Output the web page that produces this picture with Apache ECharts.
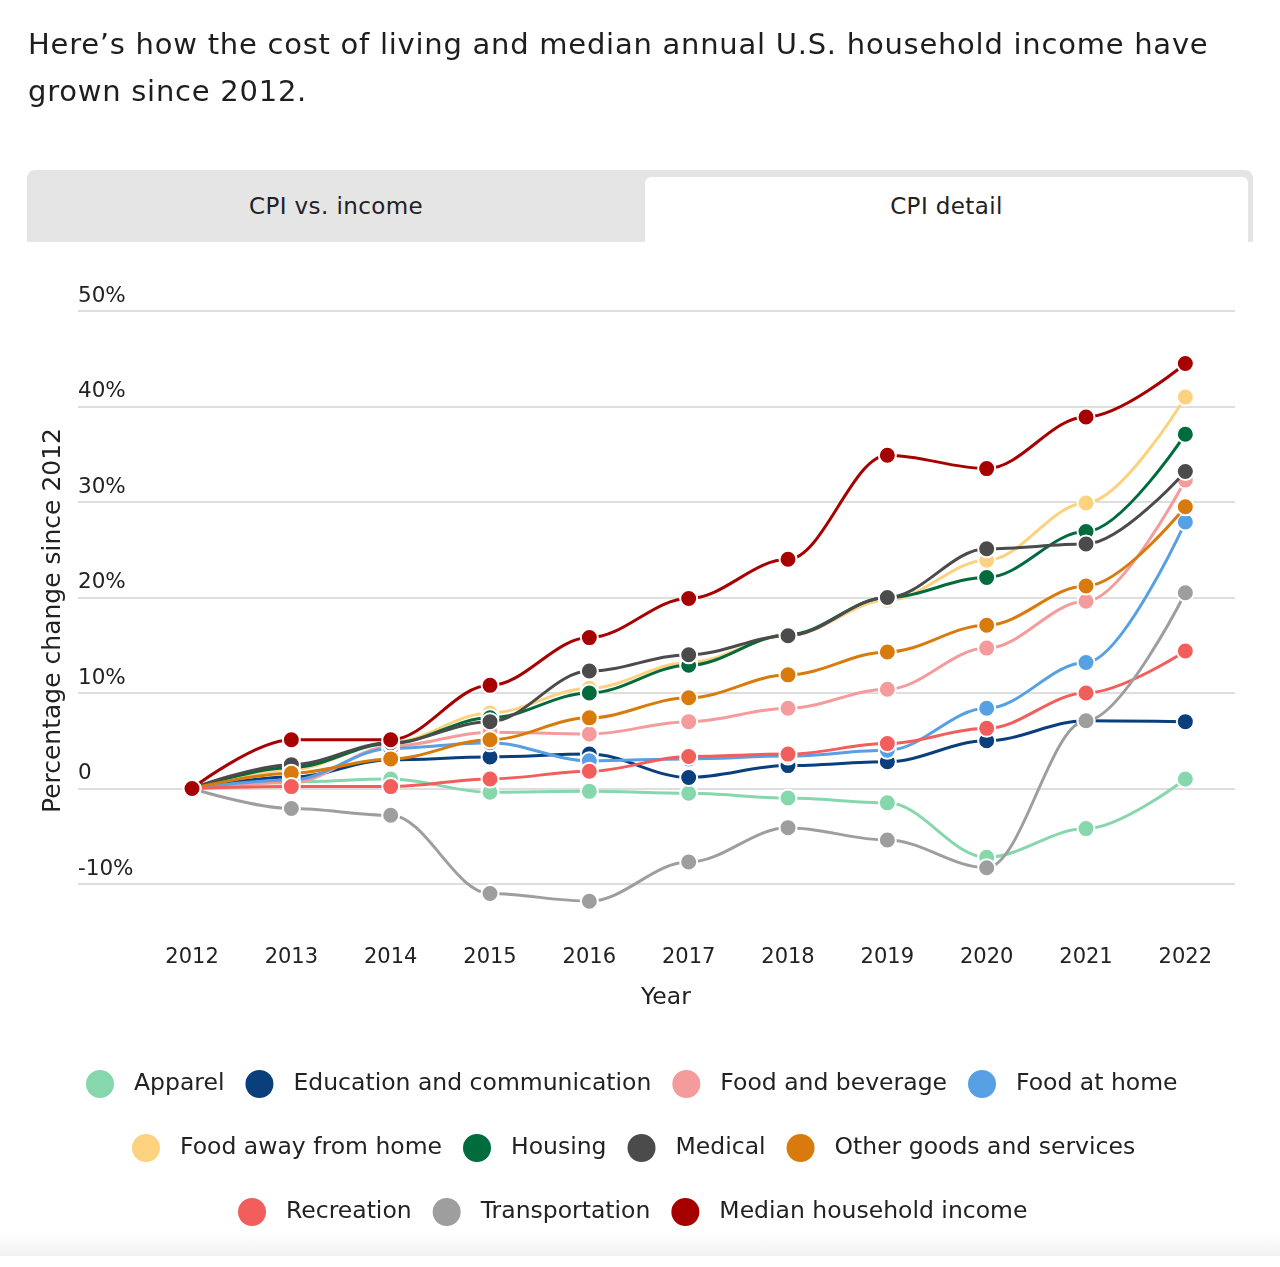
<!DOCTYPE html>
<html>
<head>
<meta charset="utf-8">
<script src="https://cdn.jsdelivr.net/npm/echarts@6/dist/echarts.min.js"></script>
<style>
  html, body { margin: 0; padding: 0; background: #fff; width: 1280px; height: 1267px; overflow: hidden; font-family: "DejaVu Sans", sans-serif; }
  #title { position: absolute; left: 28px; top: 21px; width: 1250px; font-size: 29px; letter-spacing: 0.75px; line-height: 47px; color: #1e1e1e; z-index: 2; white-space: nowrap; }
  #tabs { position: absolute; left: 27px; top: 170px; width: 1226px; height: 72px; background: #e5e5e5; border-radius: 8px 8px 0 0; z-index: 2; }
  .tab { position: absolute; font-size: 23px; letter-spacing: 0.4px; color: #222; text-align: center; }
  #tab1 { left: 0; top: 0; width: 618px; height: 72px; line-height: 72px; }
  #tab2 { left: 618px; top: 7px; width: 603px; height: 65px; line-height: 58px; background: #fff; border-radius: 6px 6px 0 0; }
  #shadow { position: absolute; left: 0; top: 1232px; width: 1280px; height: 24px; background: linear-gradient(#fff, #f2f2f2); z-index: 0; }
  #chart { position: absolute; left: 0; top: 0; width: 1280px; height: 1267px; z-index: 1; }
</style>
</head>
<body>
<div id="title">Here’s how the cost of living and median annual U.S. household income have<br>grown since 2012.</div>
<div id="tabs"><div class="tab" id="tab1">CPI vs. income</div><div class="tab" id="tab2">CPI detail</div></div>
<div id="shadow"></div>
<div id="chart"></div>
<script>
const years = ['2012','2013','2014','2015','2016','2017','2018','2019','2020','2021','2022'];
const apparel        = [0, 0.7, 1.0, -0.4, -0.3, -0.5, -1.0, -1.5, -7.2, -4.2, 1.0];
const education      = [0, 1.2, 3.0, 3.3, 3.6, 1.15, 2.4, 2.8, 5.0, 7.1, 7.0];
const foodBeverage   = [0, 0.6, 4.4, 5.9, 5.7, 7.0, 8.4, 10.4, 14.7, 19.6, 32.3];
const foodAtHome     = [0, 0.9, 4.2, 4.8, 2.9, 3.1, 3.4, 4.0, 8.4, 13.2, 27.9];
const foodAway       = [0, 2.0, 4.8, 7.9, 10.5, 13.2, 16.0, 19.7, 23.9, 29.9, 41.0];
const housing        = [0, 2.2, 4.7, 7.4, 10.0, 12.9, 16.1, 20.0, 22.1, 26.9, 37.1];
const medical        = [0, 2.5, 4.8, 7.0, 12.3, 14.0, 16.0, 20.0, 25.1, 25.6, 33.2];
const otherGoods     = [0, 1.6, 3.1, 5.1, 7.4, 9.5, 11.9, 14.3, 17.1, 21.2, 29.5];
const recreation     = [0, 0.2, 0.2, 1.0, 1.8, 3.35, 3.6, 4.7, 6.3, 10.0, 14.4];
const transportation = [0, -2.1, -2.8, -11.0, -11.8, -7.7, -4.1, -5.4, -8.3, 7.1, 20.5];
const medianIncome   = [0, 5.1, 5.1, 10.8, 15.8, 19.9, 24.0, 34.9, 33.5, 38.9, 44.5];

const seriesNames = ['Apparel','Education and communication','Food and beverage','Food at home','Food away from home','Housing','Medical','Other goods and services','Recreation','Transportation','Median household income'];
const seriesData = [apparel, education, foodBeverage, foodAtHome, foodAway, housing, medical, otherGoods, recreation, transportation, medianIncome];
const colors = ['#86d7ac','#0a3f7d','#f59b9b','#57a0e4','#fdd27f','#006b3d','#4b4b4b','#d97b0c','#f25e5c','#9e9e9e','#a70000'];

const FONT = '"DejaVu Sans", sans-serif';
const chart = echarts.init(document.getElementById('chart'), null, {renderer: 'canvas'});

const legendRows = [seriesNames.slice(0,4), seriesNames.slice(4,8), seriesNames.slice(8,11)];
const legendTops = [1063, 1127, 1191];
const legendLefts = [79, 125, 231];

const option = {
  backgroundColor: 'transparent',
  animation: false,
  color: colors,
  grid: [
    {left: 78, right: 45, top: 311, bottom: 383},
    {left: 142.35, right: 45, top: 311, bottom: 383}
  ],
  xAxis: [
    {gridIndex: 0, type: 'category', data: years, show: false},
    {gridIndex: 1, type: 'category', data: years, boundaryGap: true,
     axisLine: {show: false}, axisTick: {show: false},
     axisLabel: {margin: 63, fontSize: 21, color: '#222', fontFamily: FONT, interval: 0}}
  ],
  yAxis: [
    {gridIndex: 0, type: 'value', min: -10, max: 50, interval: 10,
     axisLine: {show: false}, axisTick: {show: false},
     splitLine: {lineStyle: {color: '#d3d3d3', width: 1.5}},
     axisLabel: {inside: true, align: 'left', verticalAlign: 'bottom', margin: 0, padding: [0,0,4,0],
       fontSize: 21.5, color: '#222', fontFamily: FONT,
       formatter: v => v === 0 ? '0' : v + '%'}},
    {gridIndex: 1, type: 'value', min: -10, max: 50, interval: 10, show: false, splitLine: {show: false}}
  ],
  legend: legendRows.map((row, i) => ({
    data: row, top: legendTops[i], left: legendLefts[i], orient: 'horizontal',
    padding: 5,
    icon: 'circle', itemWidth: 30, itemHeight: 30, itemGap: 19,
    textStyle: {fontSize: 23.5, color: '#222', fontFamily: FONT, padding: [0,0,0,14]},
    selectedMode: false
  })),
  graphic: [
    {type: 'text', left: 41, top: 428, rotation: Math.PI/2,
     style: {text: 'Percentage change since 2012', fontSize: 25, fill: '#222', fontFamily: FONT}},
    {type: 'text', x: 666, y: 998, style: {text: 'Year', fontSize: 23.5, fill: '#222', fontFamily: FONT, align: 'center', verticalAlign: 'middle'}}
  ],
  series: seriesNames.map((name, i) => ({
    name: name, type: 'line', xAxisIndex: 1, yAxisIndex: 1,
    data: seriesData[i], smooth: 0.35, smoothMonotone: 'x', clip: false,
    symbol: 'circle', symbolSize: 17,
    lineStyle: {width: 3, color: colors[i]},
    itemStyle: {color: colors[i], borderColor: '#fff', borderWidth: 2},
    z: 2 + i
  }))
};
chart.setOption(option);
</script>
</body>
</html>
